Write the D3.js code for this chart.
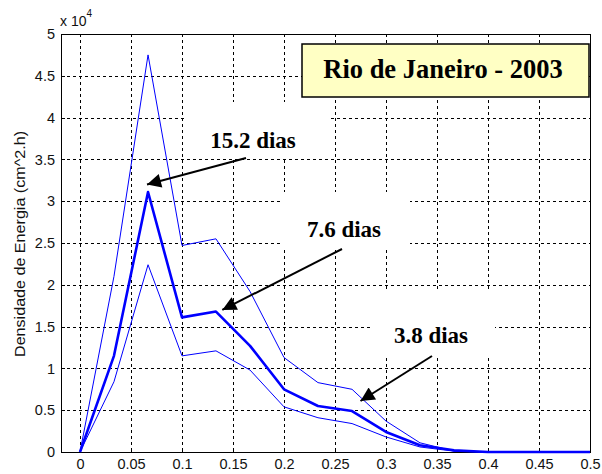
<!DOCTYPE html>
<html><head><meta charset="utf-8">
<script src="https://cdn.jsdelivr.net/npm/d3@7"></script>
<style>body{margin:0;background:#fff}svg{display:block}</style>
</head><body>
<svg id="c" width="602" height="474"></svg>
<script>
// Data (energy density in units of 1e4)
const xValues = [0, 0.0333, 0.0667, 0.1, 0.1333, 0.1667, 0.2, 0.2333, 0.2667, 0.3, 0.3333, 0.3667, 0.4, 0.4333, 0.4667, 0.5];
const upper15 = [0, 2.1, 4.75, 2.47, 2.55, 1.92, 1.13, 0.83, 0.75, 0.37, 0.11, 0.01, 0, 0, 0, 0];
const middle76 = [0, 1.15, 3.11, 1.61, 1.68, 1.27, 0.75, 0.55, 0.49, 0.24, 0.08, 0.02, 0, 0, 0, 0];
const lower38 = [0, 0.84, 2.24, 1.15, 1.21, 0.98, 0.54, 0.41, 0.34, 0.18, 0.06, 0.01, 0, 0, 0, 0];
const xTicks = [0, 0.05, 0.1, 0.15, 0.2, 0.25, 0.3, 0.35, 0.4, 0.45, 0.5];
const xTickLabels = ["0","0.05","0.1","0.15","0.2","0.25","0.3","0.35","0.4","0.45","0.5"];
const yTicks = [0, 0.5, 1, 1.5, 2, 2.5, 3, 3.5, 4, 4.5, 5];
const yTickLabels = ["0","0.5","1","1.5","2","2.5","3","3.5","4","4.5","5"];
const titleText = "Rio de Janeiro - 2003";
const yLabel = "Densidade de Energia (cm^2.h)";
const annotations = [
  {text: "15.2 dias", x: 0.0657, y: 3.2},
  {text: "7.6 dias", x: 0.1395, y: 1.70},
  {text: "3.8 dias", x: 0.275, y: 0.61}
];

(function(){
const svg = d3.select("#c");
const pL = 61, pR = 590, pT = 34, pB = 452;
const x = d3.scaleLinear().domain([0, 0.5]).range([80, 590]);
const y = d3.scaleLinear().domain([0, 5]).range([452, 34]);

// grid
const g = svg.append("g");
g.selectAll(".vg").data(xTicks.filter(d => d < 0.5)).enter().append("line")
  .attr("x1", d => x(d) + 0.5).attr("x2", d => x(d) + 0.5).attr("y1", pT).attr("y2", pB)
  .attr("stroke", "#000").attr("stroke-width", 1).attr("stroke-dasharray", "3,3");
g.selectAll(".hg").data(yTicks.filter(d => d > 0 && d < 5)).enter().append("line")
  .attr("x1", pL).attr("x2", pR).attr("y1", d => Math.round(y(d)) + 0.5).attr("y2", d => Math.round(y(d)) + 0.5)
  .attr("stroke", "#000").attr("stroke-width", 1).attr("stroke-dasharray", "3,3");

// white boxes behind annotation text
const boxes = [
  {x0: 185, x1: 328, y0: 102, y1: 158},
  {x0: 283, x1: 410, y0: 192, y1: 247},
  {x0: 372, x1: 495, y0: 290, y1: 357}
];
svg.selectAll(".wb").data(boxes).enter().append("rect")
  .attr("x", d => d.x0).attr("y", d => d.y0).attr("width", d => d.x1 - d.x0).attr("height", d => d.y1 - d.y0)
  .attr("fill", "#fff");

// frame
svg.append("rect").attr("x", pL + 0.5).attr("y", pT + 0.5).attr("width", pR - pL).attr("height", pB - pT)
  .attr("fill", "none").attr("stroke", "#000").attr("stroke-width", 1);

// axes
const xAxis = d3.axisBottom(x).tickValues(xTicks).tickFormat((d, i) => xTickLabels[i]).tickSize(0).tickPadding(7);
const yAxis = d3.axisLeft(y).tickValues(yTicks).tickFormat((d, i) => yTickLabels[i]).tickSize(0).tickPadding(6);
const xa = svg.append("g").attr("transform", `translate(0,${pB})`).call(xAxis);
const ya = svg.append("g").attr("transform", `translate(${pL},0)`).call(yAxis);
[xa, ya].forEach(a => {
  a.select(".domain").remove();
  a.selectAll("text").attr("font-family", "Liberation Sans, Arial, sans-serif").attr("font-size", 14.5).attr("fill", "#111");
});
// small inward ticks
svg.selectAll(".xt").data(xTicks).enter().append("line")
  .attr("x1", d => x(d) + 0.5).attr("x2", d => x(d) + 0.5).attr("y1", pB).attr("y2", pB - 4)
  .attr("stroke", "#000");
svg.selectAll(".yt").data(yTicks).enter().append("line")
  .attr("x1", pL).attr("x2", pL + 4).attr("y1", d => Math.round(y(d)) + 0.5).attr("y2", d => Math.round(y(d)) + 0.5)
  .attr("stroke", "#000");

// exponent label
const ex = svg.append("text").attr("x", 60).attr("y", 26)
  .attr("font-family", "Liberation Sans, Arial, sans-serif").attr("font-size", 14).attr("fill", "#111");
ex.append("tspan").text("x 10");
ex.append("tspan").attr("font-size", 10).attr("dy", -9).text("4");

// y label
svg.append("text").attr("transform", "translate(25,244) rotate(-90)")
  .attr("text-anchor", "middle").attr("font-family", "Liberation Sans, Arial, sans-serif")
  .attr("font-size", 14.5).attr("textLength", 226).attr("lengthAdjust", "spacingAndGlyphs")
  .attr("fill", "#111").text(yLabel);

// lines
const line = d3.line().x((d, i) => x(xValues[i])).y(d => y(d));
svg.append("path").datum(upper15).attr("d", line).attr("fill", "none").attr("stroke", "#0000ff").attr("stroke-width", 1);
svg.append("path").datum(lower38).attr("d", line).attr("fill", "none").attr("stroke", "#0000ff").attr("stroke-width", 1);
svg.append("path").datum(middle76).attr("d", line).attr("fill", "none").attr("stroke", "#0000ff").attr("stroke-width", 2.6).attr("stroke-linejoin", "round");

// title box
svg.append("rect").attr("x", 302).attr("y", 44).attr("width", 287).attr("height", 53)
  .attr("fill", "#ffffc4").attr("stroke", "#000").attr("stroke-width", 1.5);
svg.append("text").attr("x", 443).attr("y", 78).attr("text-anchor", "middle")
  .attr("font-family", "Liberation Serif, Times New Roman, serif").attr("font-weight", "bold")
  .attr("font-size", 26.5).attr("fill", "#000").text(titleText);

// annotation labels and arrows
const labelPos = [
  {tx: 253, ty: 148, ax: 246, ay: 158},
  {tx: 344, ty: 237, ax: 342, ay: 249},
  {tx: 431, ty: 343, ax: 432, ay: 356}
];
svg.append("defs").append("marker").attr("id", "ah").attr("viewBox", "0 0 10 10")
  .attr("refX", 10).attr("refY", 5).attr("markerWidth", 9).attr("markerHeight", 7)
  .attr("markerUnits", "strokeWidth").attr("orient", "auto")
  .append("path").attr("d", "M0,0 L10,5 L0,10 z").attr("fill", "#000");
annotations.forEach((a, i) => {
  const p = labelPos[i];
  svg.append("text").attr("x", p.tx).attr("y", p.ty).attr("text-anchor", "middle")
    .attr("font-family", "Liberation Serif, Times New Roman, serif").attr("font-weight", "bold")
    .attr("font-size", 23).attr("fill", "#000").text(a.text);
  svg.append("line").attr("x1", p.ax).attr("y1", p.ay).attr("x2", x(a.x)).attr("y2", y(a.y))
    .attr("stroke", "#000").attr("stroke-width", 2).attr("marker-end", "url(#ah)");
});
})();
</script>
</body></html>
